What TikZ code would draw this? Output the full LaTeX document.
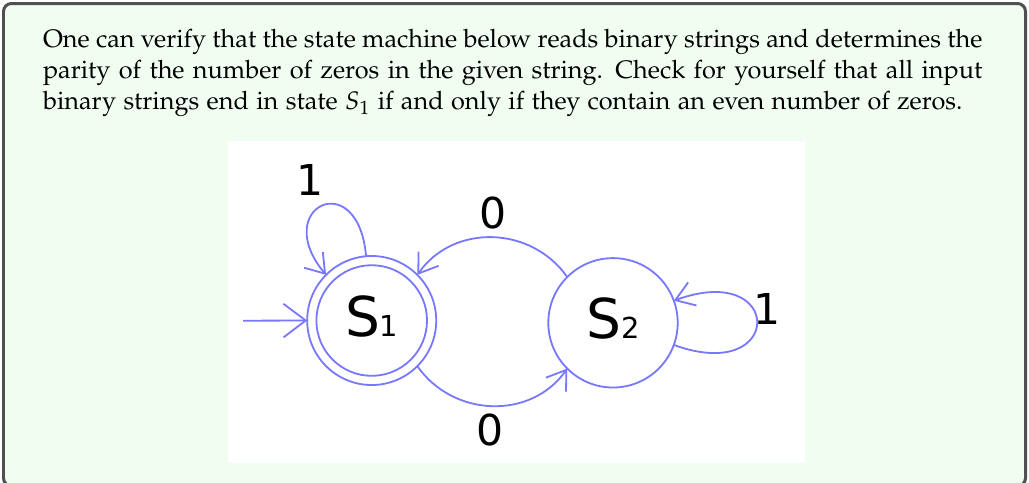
\documentclass[tikz,border=0pt]{standalone}
\usepackage[no-math]{fontspec}
\newfontfamily\dv{DejaVu Sans}
\usepackage[T1]{fontenc}
\usepackage{mathpazo}
\usetikzlibrary{arrows.meta,calc}
\definecolor{boxgreen}{RGB}{240,253,240}
\definecolor{boxgray}{RGB}{80,80,80}
\definecolor{fsm}{RGB}{120,120,255}
\tikzset{
  outerstate/.style={circle,draw=fsm,line width=0.7pt,minimum size=50pt,inner sep=0pt,outer sep=0pt},
  innerstate/.style={circle,draw=fsm,line width=0.7pt,minimum size=42.86pt,inner sep=0pt,outer sep=0pt},
  edge/.style={draw=fsm,line width=0.7pt,-{Straight Barb[length=7pt,width=9.5pt]}},
  initedge/.style={draw=fsm,line width=0.7pt,-{Straight Barb[length=8.6pt,width=13pt]}},
  statelab/.style={inner sep=0pt,anchor=base},
  digit/.style={inner sep=0pt,font=\fontencoding{TU}\dv\fontsize{16.5}{18}\selectfont},
}
\newcommand{\statename}[2]{{\fontencoding{TU}\dv\fontsize{21.3}{24}\selectfont #1}{\fontencoding{TU}\dv\fontsize{11.2}{12}\selectfont #2}}
\begin{document}
\begin{tikzpicture}[x=0.3875pt,y=0.3875pt]
\useasboundingbox (0,0) rectangle (1029,482);
% frame
\draw[draw=boxgray,fill=boxgreen,line width=1.16pt,rounded corners=3.1pt] (3.5,-4) rectangle (1025.5,478.5);
% text
\node[anchor=base west,inner sep=0pt,text width=364pt,align=justify,
      font=\fontencoding{T1}\fontfamily{pplx}\fontsize{9.8}{12}\selectfont] (txt) at (42.5,434.3)
  {One can verify that the state machine below reads binary strings and determines the\linebreak
   parity of the number of zeros in the given string.  Check for yourself that all input\linebreak
   binary strings end in state $S_1$ if and only if they contain an even number of zeros.};
% white panel
\fill[white] (228,19) rectangle (805,341);
% states
\node[outerstate] (s1) at (371.7,161.5) {};
\node[innerstate] (s1in) at (s1.center) {};
\node[outerstate,minimum size=50.14pt] (s2) at (613,159.2) {};
\node[statelab] (s1lab) at ($(s1.center)+(0,-15.5)$) {\statename{S}{1}};
\node[statelab] (s2lab) at ($(s2.center)+(0,-15.2)$) {\statename{S}{2}};
% initial arrow
\coordinate (init) at (243,161.3);
\draw[initedge] (init) -- (s1.180);
% edges
\draw[edge] (s1.95) .. controls +(95:92) and +(130:88) .. (s1.135);
\draw[edge] (s2.135) to[out=125,in=55,looseness=1.07] (s1.45);
\draw[edge] (s1.-45) to[out=-55,in=-125,looseness=1.07] (s2.-135);
\draw[edge] (s2.-20) .. controls +(-20:118) and +(20:118) .. (s2.20);
% labels
\node[digit] (l1) at (310,302) {1};
\node[digit] (l0top) at (493.3,269) {0};
\node[digit] (l0bot) at (490.5,52) {0};
\node[digit] (l1b) at (766.7,173) {1};
\end{tikzpicture}
\end{document}
